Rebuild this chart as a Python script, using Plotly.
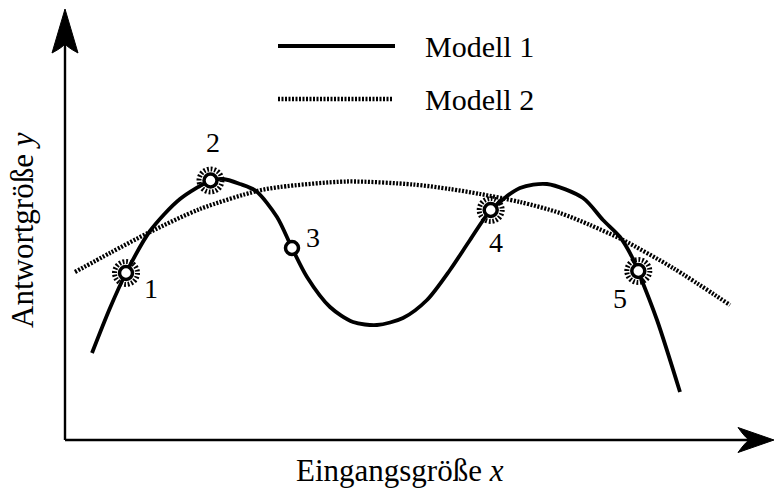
import plotly.graph_objects as go

# ---- data (abstract units; origin at the axis corner) ----
m1_x = [27, 45, 61, 85, 115, 145, 158, 175, 191, 212, 227, 242, 265, 288, 312,
        338, 362, 385, 405, 426, 455, 482, 518, 538, 555, 567, 573, 592, 615]
m1_y = [87, 132, 167, 209, 241, 259, 261, 256, 249, 223, 192, 163, 133, 118, 115,
        122, 140, 170, 200, 230, 252, 256, 242, 220, 203, 183, 169, 120, 48]

m2_x = [10, 45, 85, 135, 192, 215, 282, 348, 385, 415, 455, 495, 525, 558, 608, 665]
m2_y = [168, 187, 208, 231, 249, 253, 258.5, 255.5, 251, 246, 238, 227, 215, 200, 172, 135]

pt_x = [61, 145.5, 227, 425.7, 573.3]
pt_y = [167, 259.5, 192, 230, 169]
pt_labels = ["1", "2", "3", "4", "5"]
pt_halo = [True, True, False, True, True]

series_names = ["Modell 1", "Modell 2"]
x_title = "Eingangsgröße <i>x</i>"
y_title = "Antwortgröße <i>y</i>"

FONT = "Liberation Serif"
DOT = "2px,1.5px"

fig = go.Figure()
fig.add_trace(go.Scatter(x=m2_x, y=m2_y, mode="lines",
                         line=dict(color="black", width=4.3, dash=DOT, shape="spline", smoothing=0.8),
                         showlegend=False, hoverinfo="skip"))
fig.add_trace(go.Scatter(x=m1_x, y=m1_y, mode="lines",
                         line=dict(color="black", width=3.8, shape="spline", smoothing=0.8),
                         showlegend=False, hoverinfo="skip"))
fig.add_trace(go.Scatter(x=pt_x, y=pt_y, mode="markers",
                         marker=dict(size=13, color="white", line=dict(color="black", width=3.5)),
                         showlegend=False, hoverinfo="skip"))

shapes = []
# halos
for x, y, h in zip(pt_x, pt_y, pt_halo):
    if h:
        shapes.append(dict(type="circle", xref="x", yref="y", xsizemode="pixel", ysizemode="pixel",
                           xanchor=x, yanchor=y, x0=-11.5, x1=11.5, y0=-11.5, y1=11.5,
                           line=dict(color="black", width=5, dash="1.8px,1.8px"), layer="above"))
# axes
shapes.append(dict(type="line", xref="x", yref="y", x0=0, y0=0, x1=0, y1=400,
                   line=dict(color="black", width=2.4)))
shapes.append(dict(type="line", xref="x", yref="y", x0=0, y0=0, x1=688, y1=0,
                   line=dict(color="black", width=2.4)))
shapes.append(dict(type="path", xref="x", yref="y",
                   path="M 0 431 L -13 387 Q 0 394 0 397 Q 0 394 13 387 Z",
                   fillcolor="black", line=dict(color="black", width=1)))
shapes.append(dict(type="path", xref="x", yref="y",
                   path="M 709 0 L 673 12.5 Q 682 0 685 0 Q 682 0 673 -12.5 Z",
                   fillcolor="black", line=dict(color="black", width=1)))
# legend samples
shapes.append(dict(type="line", xref="x", yref="y", x0=213, x1=330, y0=394, y1=394,
                   line=dict(color="black", width=3.8)))
shapes.append(dict(type="line", xref="x", yref="y", x0=213, x1=328, y0=341, y1=341,
                   line=dict(color="black", width=4.3, dash=DOT)))

annotations = []
offsets = [(25, -15), (2, 38.5), (20.5, 10.5), (5.3, -32.5), (-18, -27)]
for x, y, t, (dx, dy) in zip(pt_x, pt_y, pt_labels, offsets):
    annotations.append(dict(x=x, y=y, xref="x", yref="y", text=t, showarrow=False,
                            xshift=dx, yshift=dy, font=dict(family=FONT, size=28, color="black")))
for name, yy in zip(series_names, [394, 341]):
    annotations.append(dict(x=358, y=yy, xref="x", yref="y", text=name, showarrow=False,
                            xanchor="left", yanchor="middle",
                            font=dict(family=FONT, size=30, color="black")))
annotations.append(dict(x=335, y=-30, xref="x", yref="y", text=x_title, showarrow=False,
                        font=dict(family=FONT, size=31, color="black")))
annotations.append(dict(x=-43, y=210, xref="x", yref="y", text=y_title, showarrow=False,
                        textangle=-90, font=dict(family=FONT, size=31, color="black")))

fig.update_layout(
    width=774, height=491, margin=dict(l=0, r=0, t=0, b=0),
    paper_bgcolor="white", plot_bgcolor="white",
    xaxis=dict(range=[-65, 709], visible=False, fixedrange=True),
    yaxis=dict(range=[-51, 440], visible=False, fixedrange=True),
    shapes=shapes, annotations=annotations, showlegend=False,
)
fig.write_html("out.html", config={"displayModeBar": False},
               post_script="document.body.style.margin='0';document.body.style.overflow='hidden';")
